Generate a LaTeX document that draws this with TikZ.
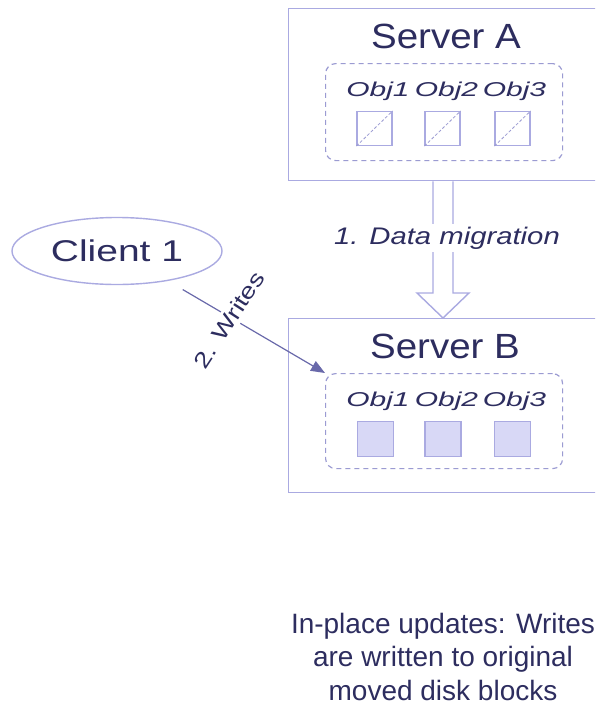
\documentclass[tikz,border=0pt]{standalone}
\usepackage{fontspec}
\setmainfont{Liberation Sans}
\newfontfamily\fTitle[FakeStretch=1.1]{Liberation Sans}
\newfontfamily\fClient[FakeStretch=1.3]{Liberation Sans}
\newfontfamily\fObj[FakeStretch=1.5]{Liberation Sans}
\newfontfamily\fMig[FakeStretch=1.22]{Liberation Sans}
\newfontfamily\fWr[FakeStretch=1.25]{Liberation Sans}
\usetikzlibrary{arrows.meta,shapes.geometric,calc}
\definecolor{txt}{RGB}{45,45,95}
\definecolor{boxc}{RGB}{170,170,225}
\definecolor{dashc}{RGB}{155,155,210}
\definecolor{sqfill}{RGB}{216,216,246}
\definecolor{arrc}{RGB}{105,105,170}
\begin{document}
\begin{tikzpicture}[x=1pt,y=-1pt,
  server/.style={draw=boxc,line width=1.4pt,fill=white,anchor=north west,inner sep=0pt},
  grp/.style={draw=dashc,line width=1.2pt,dash pattern=on 5pt off 4pt,rounded corners=10pt,anchor=north west,inner sep=0pt,minimum width=237pt},
  objA/.style={draw=boxc,line width=1.1pt,minimum width=35pt,minimum height=34pt,inner sep=0pt},
  objB/.style={objA,fill=sqfill,minimum width=36pt,minimum height=35pt},
  diag/.style={draw=dashc,line width=0.8pt,dash pattern=on 3pt off 2pt},
  title/.style={text=txt,anchor=base,inner sep=0pt,font=\fTitle\fontsize{35}{40}\selectfont},
  objlbl/.style={text=txt,anchor=base,inner sep=0pt,font=\fObj\itshape\fontsize{20}{24}\selectfont},
  mig/.style={draw=boxc,line width=1.4pt,fill=white},
]
\useasboundingbox (0,0) rectangle (595,710);
\clip (0,0) rectangle (595,710);

% servers
\node[server,minimum width=320pt,minimum height=172pt] (sa) at (288,8) {};
\node[server,minimum width=320pt,minimum height=174pt] (sb) at (288,318) {};
\node[title] (ta) at (446,48) {Server A};
\node[title] (tb) at (445,358) {Server B};

% groups
\node[grp,minimum height=97pt] (ga) at (325,63) {};
\node[grp,minimum height=95pt] (gb) at (325,373) {};

% objects in A
\node[objA] (a1) at (374.5,128.5) {};
\node[objA] (a2) at (442.5,128.5) {};
\node[objA] (a3) at (512.5,128.5) {};
\foreach \o in {a1,a2,a3} \draw[diag] (\o.south west) -- (\o.north east);
\node[objlbl] (la1) at (378,96) {Obj1};
\node[objlbl] (la2) at (446.5,96) {Obj2};
\node[objlbl] (la3) at (514.5,96) {Obj3};

% objects in B
\node[objB] (b1) at (375.5,439) {};
\node[objB] (b2) at (443,439) {};
\node[objB] (b3) at (512.5,439) {};
\node[objlbl] (lb1) at (378,406.5) {Obj1};
\node[objlbl] (lb2) at (446.5,406.5) {Obj2};
\node[objlbl] (lb3) at (514.5,406.5) {Obj3};

% hollow migration arrow
\coordinate (mtop) at ($(sa.south west)+(155,0)$);
\coordinate (mtip) at ($(sb.north west)+(155,0)$);
\draw[mig] ($(mtop)+(-10,0)$) -- ($(mtip)+(-10,-25)$) -- ($(mtip)+(-26,-25)$) -- (mtip)
  -- ($(mtip)+(26,-25)$) -- ($(mtip)+(10,-25)$) -- ($(mtop)+(10,0)$);
\node[fill=white,text=txt,anchor=base,inner sep=3pt,font=\fMig\itshape\fontsize{24}{28}\selectfont] (ml) at (447,244) {1. Data migration};

% client
\node[ellipse,draw=boxc,line width=1.4pt,minimum width=210pt,minimum height=67pt,inner sep=0pt,
  text=txt,font=\fClient\fontsize{30}{34}\selectfont] (client) at (117,251) {Client 1};

% writes arrow
\draw[arrc,line width=1.2pt,-{Triangle[length=14pt,width=11pt]},shorten <=17pt] (client) -- (gb.north west);
\node[rotate=57,fill=white,text=txt,inner sep=3pt,font=\fWr\fontsize{22}{26}\selectfont] (wl) at (229,320) {2. Writes};

% note
\node[anchor=north,inner sep=0pt,align=center,text=txt,font=\fontsize{28}{33.5}\selectfont] (note) at (443,613)
  {In-place updates: Writes\\are written to original\\moved disk blocks};
\end{tikzpicture}
\end{document}
